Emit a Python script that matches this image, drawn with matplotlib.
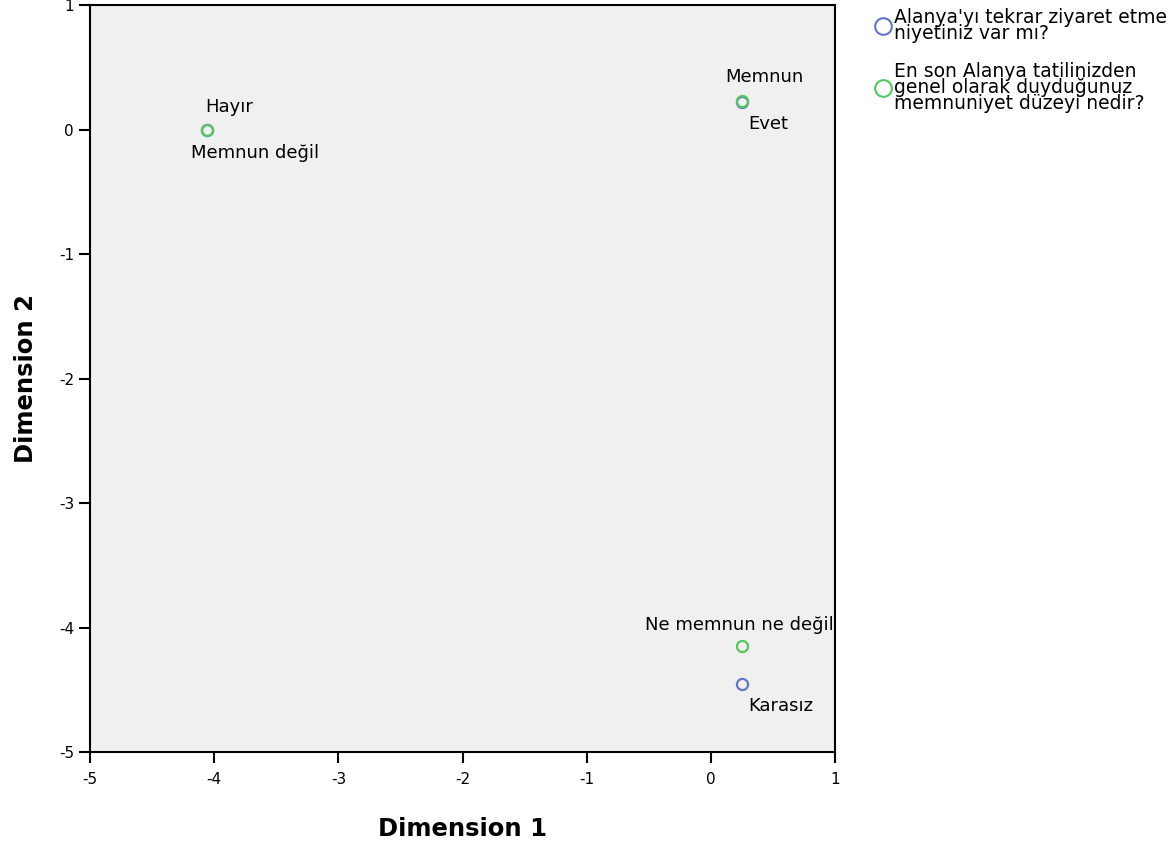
import matplotlib.pyplot as plt
from matplotlib.lines import Line2D

plt.rcParams['font.family'] = ['DejaVu Sans']
plt.rcParams['axes.unicode_minus'] = False

# category points (dimension 1, dimension 2)
q1_labels = ["Evet", "Hayır", "Karasız"]
q1_x = [0.25, -4.06, 0.25]
q1_y = [0.22, 0.0, -4.45]

q2_labels = ["Memnun", "Memnun değil", "Ne memnun ne değil"]
q2_x = [0.25, -4.06, 0.25]
q2_y = [0.23, 0.0, -4.15]

legend_labels = ["Alanya'yı tekrar ziyaret etme\nniyetiniz var mı?",
                 "En son Alanya tatilinizden\ngenel olarak duyduğunuz\nmemnuniyet düzeyi nedir?"]

blue = "#6276c8"
green = "#55c660"

fig = plt.figure(figsize=(11.74, 8.46), dpi=100)
ax = fig.add_axes([0.0767, 0.111, 0.6346, 0.883])
ax.set_facecolor("#f0f0f0")

ax.plot(q1_x, q1_y, 'o', ms=8, mfc='none', mec=blue, mew=1.6, zorder=3)
ax.plot(q2_x, q2_y, 'o', ms=8, mfc='none', mec=green, mew=1.6, zorder=4)

# label offsets in pixels (dx, dy)
q1_off = [(6, -22), (-2, 23), (6, -22)]
q2_off = [(-17, 24), (-16, -23), (-97, 21)]
for labs, xs, ys, offs in [(q1_labels, q1_x, q1_y, q1_off), (q2_labels, q2_x, q2_y, q2_off)]:
    for lab, x, y, o in zip(labs, xs, ys, offs):
        ax.annotate(lab, (x, y), xytext=o, textcoords='offset pixels',
                    ha='left', va='center', fontsize=13)

ax.set_xlim(-5, 1)
ax.set_ylim(-5, 1)
ax.set_xticks(range(-5, 2))
ax.set_yticks(range(-5, 2))
ax.tick_params(direction='out', length=8, width=1.5, labelsize=11)
ax.tick_params(axis='x', pad=6)
for s in ax.spines.values():
    s.set_linewidth(1.5)
ax.set_xlabel("Dimension 1", fontsize=17.5, fontweight='bold', labelpad=22)
ax.set_ylabel("Dimension 2", fontsize=17.5, fontweight='bold', labelpad=15)

handles = [Line2D([], [], ls='none', marker='o', ms=12, mfc='none', mec=blue, mew=1.5),
           Line2D([], [], ls='none', marker='o', ms=12, mfc='none', mec=green, mew=1.5)]
leg = fig.legend(handles, legend_labels, loc='upper left', bbox_to_anchor=(0.741, 0.999),
                 frameon=False, fontsize=13.5, handlelength=0.6, handletextpad=0.3,
                 labelspacing=1.05, borderaxespad=0)
for t in leg.get_texts():
    t.set_linespacing(0.76)

fig.savefig("out.png")
